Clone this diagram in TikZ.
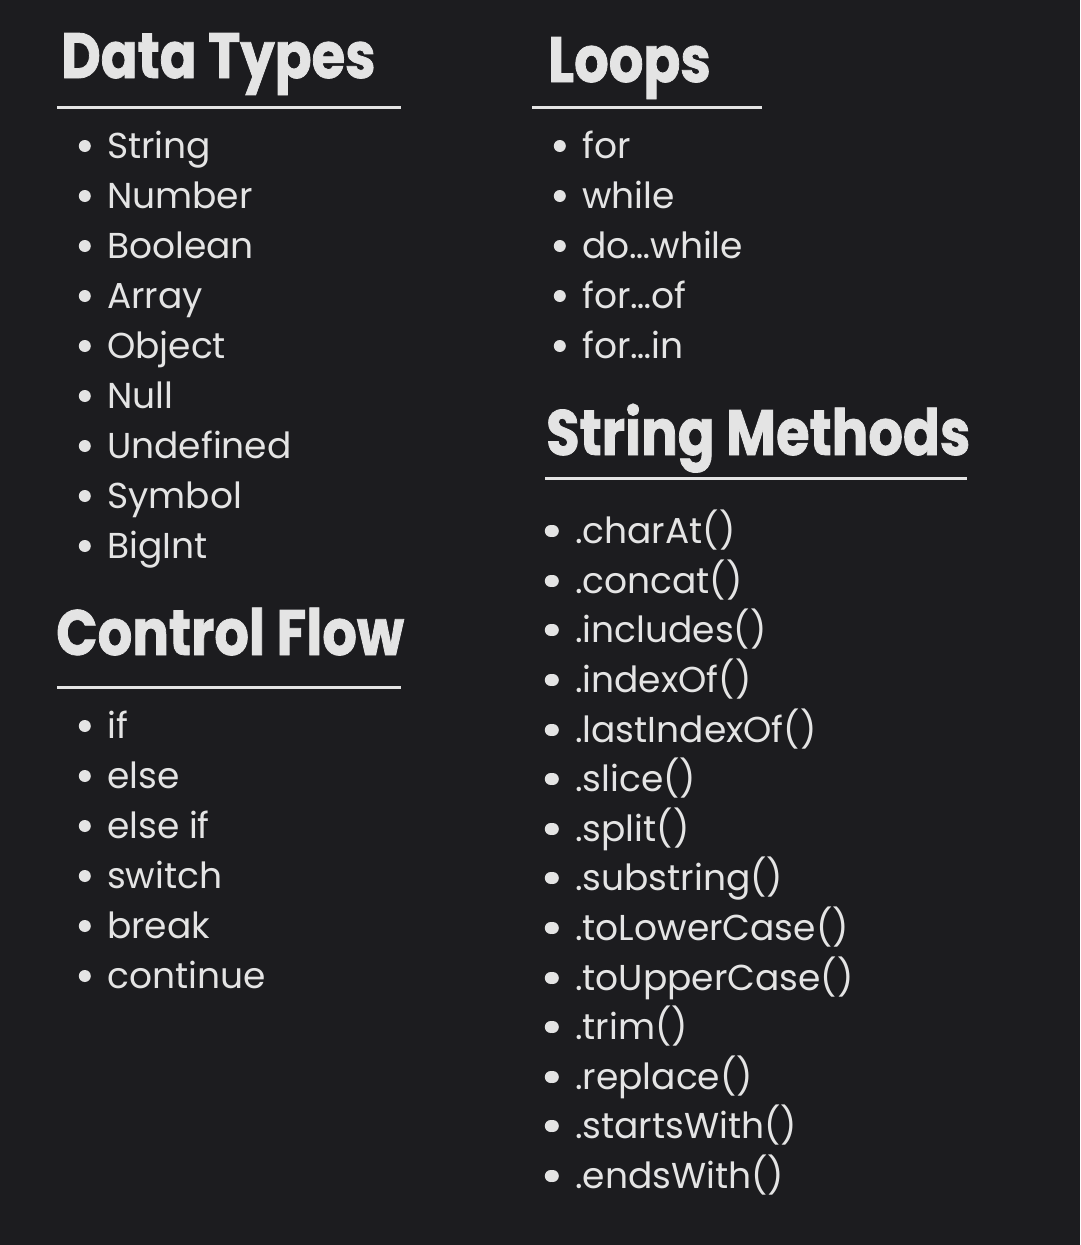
\documentclass[tikz,border=0pt]{standalone}
\usepackage{fontspec}
\setmainfont{Poppins}
\newfontfamily\headfont{Poppins}[FakeStretch=0.85, FakeBold=1.2]
\usepackage{tikz}
\usetikzlibrary{positioning}
\definecolor{bg}{HTML}{1C1C1F}
\definecolor{fg}{HTML}{E4E4E4}
\tikzset{
    heading/.style={anchor=base west, text=fg, inner sep=0pt,
        font=\headfont\fontsize{64}{70}\selectfont\bfseries},
    dot/.style={circle, fill=fg, inner sep=0pt, minimum size=12pt},
    item/.style={anchor=base west, text=fg, inner sep=0pt,
        text height=30pt, text depth=6pt,
        font=\fontsize{36}{40}\selectfont,
        label={[dot, label distance=16pt]west:{}}},
    method/.style={item, label={[dot, label distance=18pt]west:{}}},
    rule/.style={draw=fg, line width=3pt},
}

\begin{document}
\begin{tikzpicture}[x=1pt, y=-1pt]
		\fill[bg] (0,0) rectangle (1080,1245);
		\useasboundingbox (0,0) rectangle (1080,1245);
		%
		\node[heading] (dt) at (61,78) {Data Types};
		\draw[rule] (57,107) -- (401,107);
		\node[item] (dt1) at (107,158) {String};
		\node[item] (dt2) at (107,208) {Number};
		\node[item] (dt3) at (107,258) {Boolean};
		\node[item] (dt4) at (107,308) {Array};
		\node[item] (dt5) at (107,358) {Object};
		\node[item] (dt6) at (107,408) {Null};
		\node[item] (dt7) at (107,458) {Undefined};
		\node[item] (dt8) at (107,508) {Symbol};
		\node[item] (dt9) at (107,558) {BigInt};
		%
		\node[heading] (cf) at (56,655) {Control Flow};
		\draw[rule] (57,687) -- (401,687);
		\node[item] (cf1) at (107,738) {if};
		\node[item] (cf2) at (107,788) {else};
		\node[item] (cf3) at (107,838) {else if};
		\node[item] (cf4) at (107,888) {switch};
		\node[item] (cf5) at (107,938) {break};
		\node[item] (cf6) at (107,988) {continue};
		%
		\node[heading] (lp) at (548,82) {Loops};
		\draw[rule] (532,107) -- (762,107);
		\node[item] (lp1) at (582,158) {for};
		\node[item] (lp2) at (582,208) {while};
		\node[item] (lp3) at (582,258) {do…while};
		\node[item] (lp4) at (582,308) {for…of};
		\node[item] (lp5) at (582,358) {for…in};
		%
		\node[heading] (sm) at (546,455) {String Methods};
		\draw[rule] (545,478) -- (967,478);
		\node[method] (sm1) at (575,543) {.charAt()};
		\node[method] (sm2) at (575,593) {.concat()};
		\node[method] (sm3) at (575,642) {.includes()};
		\node[method] (sm4) at (575,692) {.indexOf()};
		\node[method] (sm5) at (575,742) {.lastIndexOf()};
		\node[method] (sm6) at (575,791) {.slice()};
		\node[method] (sm7) at (575,841) {.split()};
		\node[method] (sm8) at (575,890) {.substring()};
		\node[method] (sm9) at (575,940) {.toLowerCase()};
		\node[method] (sm10) at (575,990) {.toUpperCase()};
		\node[method] (sm11) at (575,1039) {.trim()};
		\node[method] (sm12) at (575,1089) {.replace()};
		\node[method] (sm13) at (575,1138) {.startsWith()};
		\node[method] (sm14) at (575,1188) {.endsWith()};
\end{tikzpicture}
\end{document}
